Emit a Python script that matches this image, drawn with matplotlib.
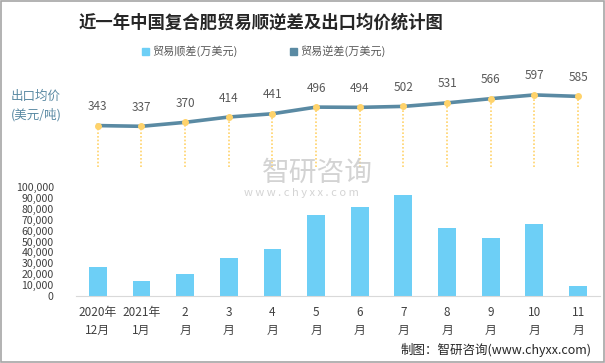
import matplotlib.pyplot as plt
import matplotlib.patches as mpatches
import numpy as np

plt.rcParams['font.family'] = ['Noto Sans CJK SC', 'DejaVu Sans']

BAR_COLOR = '#6DCFF6'
LINE_COLOR = '#5A8AA3'
DOT_COLOR = '#FFD36B'
TEXT_COLOR = '#404040'

months = ['2020年\n12月', '2021年\n1月', '2\n月', '3\n月', '4\n月', '5\n月',
          '6\n月', '7\n月', '8\n月', '9\n月', '10\n月', '11\n月']
surplus = [26600, 13800, 20000, 35000, 43000, 74000,
           81500, 92500, 62000, 53000, 66000, 9000]
price = [343, 337, 370, 414, 441, 496, 494, 502, 531, 566, 597, 585]

fig = plt.figure(figsize=(6.05, 3.63), dpi=100)
x = np.arange(len(months))

# bottom: trade surplus bars
ax = fig.add_axes((0.1256, 0.1846, 0.866, 0.3003))
ax.bar(x, surplus, 0.41, color=BAR_COLOR, zorder=2)
ax.set_xlim(-0.5, len(months) - 0.5)
ax.set_ylim(0, 100000)
ax.set_yticks(np.arange(0, 100001, 10000))
ax.set_yticklabels(['{:,}'.format(v) for v in range(0, 100001, 10000)])
ax.set_xticks(x)
ax.set_xticklabels(months, linespacing=1.55)
ax.tick_params(axis='both', length=0, labelsize=8.5, colors=TEXT_COLOR)
ax.tick_params(axis='y', pad=16, labelsize=7.6)
ax.tick_params(axis='x', pad=7)
for s in ['top', 'right', 'left']:
    ax.spines[s].set_visible(False)
ax.spines['bottom'].set_color('#d9d9d9')

# top: export average price line
ax2 = fig.add_axes((0.1256, 0.540, 0.866, 0.266))
ax2.set_xlim(-0.5, len(months) - 0.5)
ax2.set_ylim(0, 800)
ax2.vlines(x, 0, price, colors=DOT_COLOR, linestyles=(0, (1, 1.2)), linewidth=1.2)
ax2.plot(x, price, color=LINE_COLOR, linewidth=2.6, zorder=3)
ax2.plot(x, price, 'o', color=DOT_COLOR, markersize=4, zorder=4)
for xi, p in zip(x, price):
    ax2.annotate(str(p), (xi, p), xytext=(0, 9), textcoords='offset points',
                 ha='center', va='bottom', fontsize=8.5, color='#595959')
ax2.axis('off')

# title & legend
fig.text(0.432, 0.938, '近一年中国复合肥贸易顺逆差及出口均价统计图', ha='center', va='center',
         fontsize=12.5, fontweight='bold', color='#262626')
fig.patches.append(mpatches.Rectangle((0.234, 0.849), 0.0115, 0.019, color=BAR_COLOR,
                                      transform=fig.transFigure, figure=fig))
fig.text(0.251, 0.859, '贸易顺差(万美元)', ha='left', va='center', fontsize=8, color='#595959')
fig.patches.append(mpatches.Rectangle((0.479, 0.849), 0.0115, 0.019, color=LINE_COLOR,
                                      transform=fig.transFigure, figure=fig))
fig.text(0.496, 0.859, '贸易逆差(万美元)', ha='left', va='center', fontsize=8, color='#595959')

fig.text(0.018, 0.708, '出口均价\n(美元/吨)', ha='left', va='center', fontsize=9,
         color=LINE_COLOR, linespacing=1.5)

# watermark
fig.text(0.525, 0.523, '智研咨询', ha='center', va='center', fontsize=20, color='#c9c9c9', alpha=0.8)
fig.text(0.498, 0.468, 'w w w . c h y x x . c o m', ha='center', va='center', fontsize=8,
         color='#c9c9c9', alpha=0.8)

# source
fig.text(0.978, 0.035, '制图：智研咨询(www.chyxx.com)', ha='right', va='center', fontsize=9,
         color='#262626')

# border
fig.patches.append(mpatches.Rectangle((0.001, 0.002), 0.997, 0.995, fill=False,
                                      edgecolor='#a6a6a6', linewidth=1.2,
                                      transform=fig.transFigure, figure=fig))

fig.savefig('out.png', dpi=100)
